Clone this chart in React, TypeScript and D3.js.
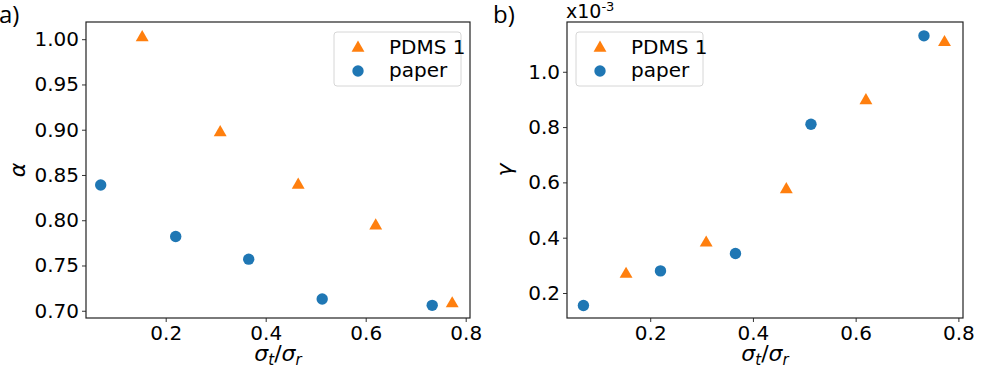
import {useEffect, useRef} from "react";
import * as d3 from "d3";

// sigma_t / sigma_r positions
const xPdms = [0.153, 0.309, 0.465, 0.62, 0.773];
const xPaper = [0.07, 0.22, 0.366, 0.513, 0.733];

// panel a) alpha
const alphaPdms = [1.003, 0.898, 0.840, 0.795, 0.709];
const alphaPaper = [0.839, 0.782, 0.757, 0.713, 0.706];

// panel b) gamma (x10^-3)
const gammaPdms = [0.272, 0.385, 0.578, 0.90, 1.11];
const gammaPaper = [0.155, 0.28, 0.343, 0.81, 1.13];

const alphaTicks = [0.70, 0.75, 0.80, 0.85, 0.90, 0.95, 1.00];
const gammaTicks = [0.2, 0.4, 0.6, 0.8, 1.0];
const xTicks = [0.2, 0.4, 0.6, 0.8];

const orange = "#ff7f0e";
const blue = "#1f77b4";
const font = "DejaVu Sans, sans-serif";

function App() {
    const ref = useRef();

    useEffect(() => {
        const svg = d3.select(ref.current);
        svg.selectAll("*").remove();

        const tri = d3.symbol().type(d3.symbolTriangle).size(72);

        function panel(opts) {
            const {left, right, top, bottom, xDom, yDom, yTicks, yFmt, pdms, paper, legendX, ylab, ylabX, tag, tagX} = opts;
            const x = d3.scaleLinear().domain(xDom).range([left, right]);
            const y = d3.scaleLinear().domain(yDom).range([bottom, top]);
            const g = svg.append("g");

            g.append("g")
                .attr("transform", `translate(0,${bottom})`)
                .call(d3.axisBottom(x).tickValues(xTicks).tickFormat(d3.format(".1f")).tickSize(4).tickPadding(4).tickSizeOuter(0))
                .call(a => a.select(".domain").remove())
                .call(a => a.selectAll("text").attr("font-size", 20).attr("font-family", font).attr("fill", "#000"))
                .call(a => a.selectAll("line").attr("stroke", "#333"));

            g.append("g")
                .attr("transform", `translate(${left},0)`)
                .call(d3.axisLeft(y).tickValues(yTicks).tickFormat(d3.format(yFmt)).tickSize(4).tickPadding(3).tickSizeOuter(0))
                .call(a => a.select(".domain").remove())
                .call(a => a.selectAll("text").attr("font-size", 20).attr("font-family", font).attr("fill", "#000"))
                .call(a => a.selectAll("line").attr("stroke", "#333"));

            g.append("rect")
                .attr("x", left).attr("y", top)
                .attr("width", right - left).attr("height", bottom - top)
                .attr("fill", "none").attr("stroke", "#222").attr("stroke-width", 1.2);

            g.selectAll(".pa").data(paper).enter().append("circle")
                .attr("cx", d => x(d[0])).attr("cy", d => y(d[1])).attr("r", 5.7)
                .attr("fill", blue);

            g.selectAll(".pd").data(pdms).enter().append("path")
                .attr("d", tri)
                .attr("transform", d => `translate(${x(d[0])},${y(d[1]) + 1})`)
                .attr("fill", orange);

            // legend
            const lg = g.append("g").attr("transform", `translate(${legendX},32)`);
            lg.append("rect").attr("width", 127).attr("height", 54).attr("rx", 3)
                .attr("fill", "#fff").attr("stroke", "#d6d6d6").attr("stroke-width", 1);
            lg.append("path").attr("d", tri).attr("transform", "translate(24,16)").attr("fill", orange);
            lg.append("circle").attr("cx", 24).attr("cy", 39).attr("r", 5.7).attr("fill", blue);
            lg.append("text").attr("x", 55).attr("y", 22).text("PDMS 1")
                .attr("font-size", 20).attr("font-family", font);
            lg.append("text").attr("x", 55).attr("y", 45).text("paper")
                .attr("font-size", 20).attr("font-family", font);

            // x label
            const xl = g.append("text")
                .attr("x", (left + right) / 2).attr("y", 361)
                .attr("text-anchor", "middle")
                .attr("font-size", 22).attr("font-family", font).attr("font-style", "italic");
            xl.append("tspan").text("σ");
            xl.append("tspan").text("t").attr("font-size", 15).attr("dy", 4);
            xl.append("tspan").text("/").attr("font-style", "normal").attr("dy", -4);
            xl.append("tspan").text("σ");
            xl.append("tspan").text("r").attr("font-size", 15).attr("dy", 4);

            g.append("text")
                .attr("transform", `translate(${ylabX},${(top + bottom) / 2}) rotate(-90)`)
                .attr("text-anchor", "middle")
                .attr("font-size", 22).attr("font-family", font).attr("font-style", "italic")
                .text(ylab);

            g.append("text").attr("x", tagX).attr("y", 23).text(tag)
                .attr("font-size", 24).attr("font-family", "Open Sans, sans-serif");

            return g;
        }

        panel({
            left: 86, right: 470, top: 22, bottom: 318,
            xDom: [0.0406, 0.8086], yDom: [0.692, 1.019],
            yTicks: alphaTicks, yFmt: ".2f",
            pdms: xPdms.map((v, i) => [v, alphaPdms[i]]),
            paper: xPaper.map((v, i) => [v, alphaPaper[i]]),
            legendX: 334, ylab: "α", ylabX: 25, tag: "a)", tagX: -1
        });

        const gb = panel({
            left: 567, right: 963, top: 22, bottom: 318,
            xDom: [0.038, 0.809], yDom: [0.1096, 1.18],
            yTicks: gammaTicks, yFmt: ".1f",
            pdms: xPdms.map((v, i) => [v, gammaPdms[i]]),
            paper: xPaper.map((v, i) => [v, gammaPaper[i]]),
            legendX: 576, ylab: "γ", ylabX: 512, tag: "b)", tagX: 493
        });

        const mult = gb.append("text").attr("x", 566).attr("y", 18)
            .attr("font-size", 19).attr("font-family", font);
        mult.append("tspan").text("x10");
        mult.append("tspan").text("-3").attr("font-size", 13).attr("dy", -7);
    }, []);

    return (
        <svg ref={ref} width={987} height={370}
             style={{position: "absolute", left: 0, top: 0, background: "#fff"}}/>
    );
}

export default App;
